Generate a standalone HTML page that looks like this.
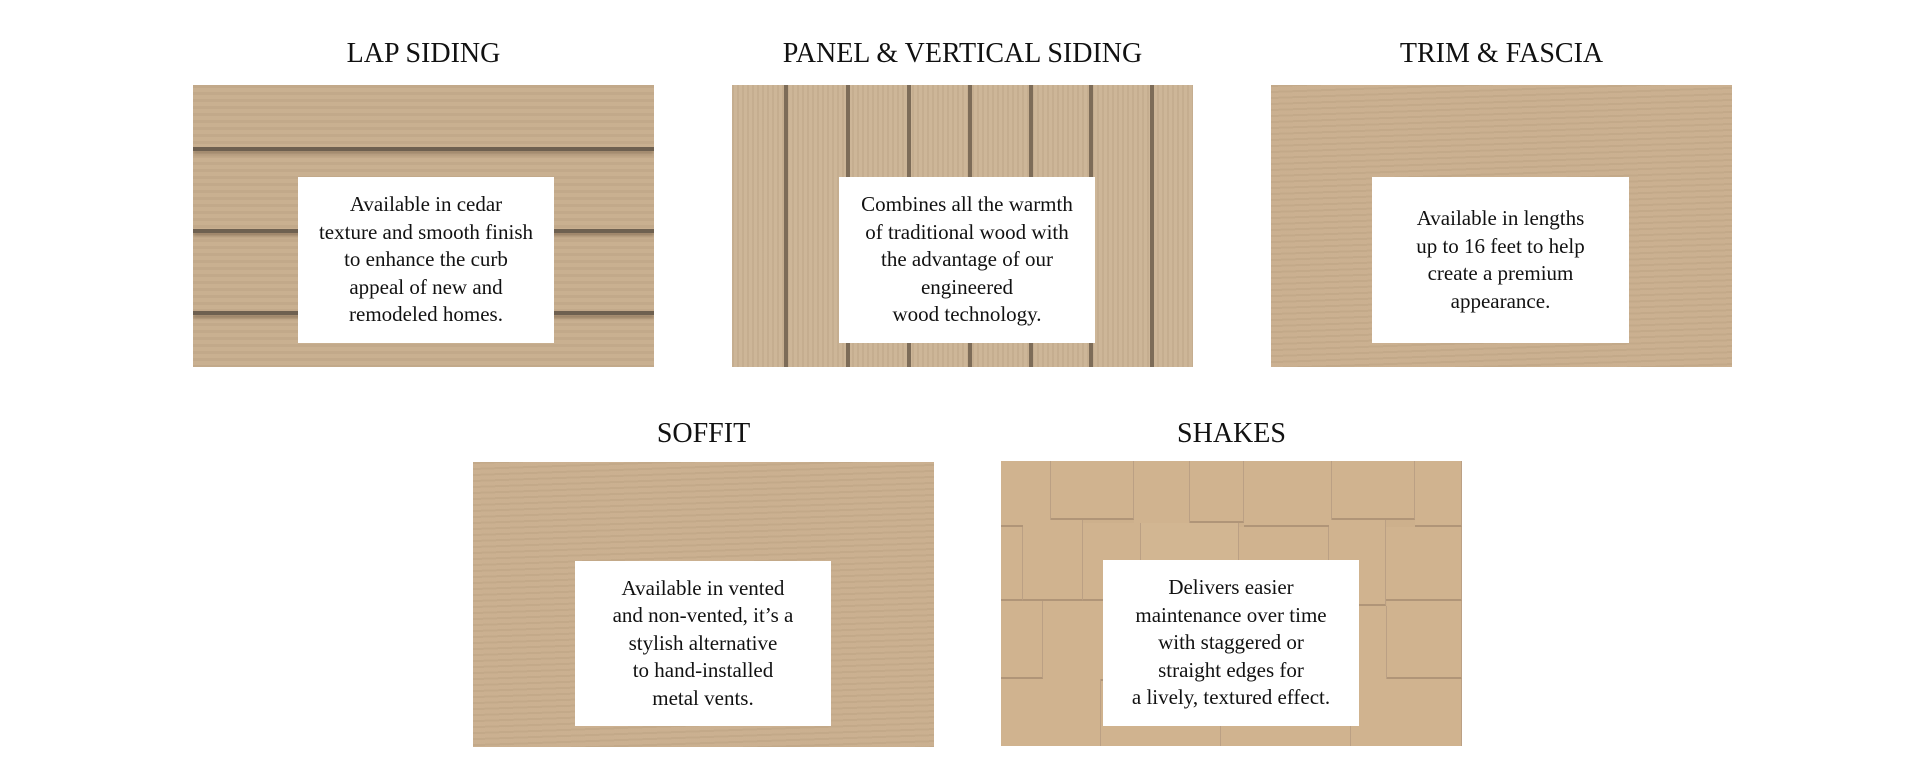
<!DOCTYPE html>
<html><head><meta charset="utf-8"><style>
html,body{margin:0;padding:0;background:#fff;width:1920px;height:766px;overflow:hidden;position:relative;font-family:"Liberation Serif",serif;}
.t{position:absolute;font-size:28px;color:#111;text-align:center;line-height:32px;}
.p{position:absolute;width:461px;height:282px;background:#c8ae8f;overflow:hidden;}
.b{position:absolute;background:#fff;color:#111;font-size:21px;line-height:27.5px;text-align:center;display:flex;align-items:center;justify-content:center;}
.lap{background:repeating-linear-gradient(180deg,rgba(0,0,0,.025) 0 3px,rgba(255,255,255,.03) 3px 7px),#c7ad8d;}
.ln{position:absolute;left:0;width:100%;height:4px;background:#6e6050;box-shadow:0 3px 3px rgba(80,60,40,.4);}
.vg{position:absolute;top:0;height:100%;width:4px;background:#7d6c58;}
.pan{background:repeating-linear-gradient(90deg,rgba(0,0,0,.03) 0 2px,rgba(255,255,255,.04) 2px 5px),#cbb394;}
.trim,.sof{background:repeating-linear-gradient(178deg,rgba(0,0,0,.03) 0 2px,rgba(255,255,255,.03) 2px 6px),#c9ae8d;}
.sh{background:#cdb08c;}
.s{position:absolute;border-right:1px solid #bba084;border-bottom:2px solid #b09578;background:#d0b38f;box-sizing:border-box;}
</style></head><body>
<div class="t" style="left:193px;width:461px;top:38px">LAP SIDING</div>
<div class="t" style="left:732px;width:461px;top:38px">PANEL &amp; VERTICAL SIDING</div>
<div class="t" style="left:1271px;width:461px;top:38px">TRIM &amp; FASCIA</div>
<div class="t" style="left:473px;width:461px;top:418px">SOFFIT</div>
<div class="t" style="left:1001px;width:461px;top:418px">SHAKES</div>

<div class="p lap" style="left:193px;top:85px">
 <div class="ln" style="top:62px"></div><div class="ln" style="top:144px"></div><div class="ln" style="top:226px"></div>
</div>
<div class="b" style="left:298px;top:177px;width:256px;height:166px">Available in cedar<br>texture and smooth finish<br>to enhance the curb<br>appeal of new and<br>remodeled homes.</div>

<div class="p pan" style="left:732px;top:85px">
 <div class="vg" style="left:52px"></div><div class="vg" style="left:114px"></div><div class="vg" style="left:175px"></div><div class="vg" style="left:236px"></div><div class="vg" style="left:297px"></div><div class="vg" style="left:357px"></div><div class="vg" style="left:418px"></div>
</div>
<div class="b" style="left:839px;top:177px;width:256px;height:166px">Combines all the warmth<br>of traditional wood with<br>the advantage of our<br>engineered<br>wood technology.</div>

<div class="p trim" style="left:1271px;top:85px"></div>
<div class="b" style="left:1372px;top:177px;width:257px;height:166px">Available in lengths<br>up to 16 feet to help<br>create a premium<br>appearance.</div>

<div class="p sof" style="left:473px;top:462px;height:285px"></div>
<div class="b" style="left:575px;top:561px;width:256px;height:165px">Available in vented<br>and non-vented, it’s a<br>stylish alternative<br>to hand-installed<br>metal vents.</div>

<div class="p sh" style="left:1001px;top:461px;height:285px">
 <div class="s" style="left:0;top:0;width:50px;height:66px"></div>
 <div class="s" style="left:50px;top:0;width:83px;height:59px"></div>
 <div class="s" style="left:133px;top:0;width:56px;height:66px"></div>
 <div class="s" style="left:189px;top:0;width:54px;height:62px"></div>
 <div class="s" style="left:243px;top:0;width:88px;height:66px"></div>
 <div class="s" style="left:331px;top:0;width:83px;height:59px"></div>
 <div class="s" style="left:414px;top:0;width:47px;height:66px"></div>
 <div class="s" style="left:0;top:66px;width:22px;height:74px"></div>
 <div class="s" style="left:22px;top:59px;width:60px;height:81px"></div>
 <div class="s" style="left:82px;top:62px;width:58px;height:78px"></div>
 <div class="s" style="left:140px;top:62px;width:98px;height:78px;background:#d2b692"></div>
 <div class="s" style="left:238px;top:66px;width:90px;height:74px"></div>
 <div class="s" style="left:328px;top:59px;width:57px;height:86px"></div>
 <div class="s" style="left:385px;top:66px;width:76px;height:74px"></div>
 <div class="s" style="left:0;top:140px;width:42px;height:78px"></div>
 <div class="s" style="left:42px;top:140px;width:75px;height:80px"></div>
 <div class="s" style="left:117px;top:140px;width:140px;height:78px"></div>
 <div class="s" style="left:257px;top:140px;width:80px;height:80px"></div>
 <div class="s" style="left:337px;top:145px;width:49px;height:75px"></div>
 <div class="s" style="left:386px;top:140px;width:75px;height:78px"></div>
 <div class="s" style="left:0;top:218px;width:100px;height:70px;border-bottom:0"></div>
 <div class="s" style="left:100px;top:220px;width:120px;height:70px;border-bottom:0"></div>
 <div class="s" style="left:220px;top:220px;width:130px;height:70px;border-bottom:0"></div>
 <div class="s" style="left:350px;top:218px;width:111px;height:70px;border-bottom:0"></div>
</div>
<div class="b" style="left:1103px;top:560px;width:256px;height:166px">Delivers easier<br>maintenance over time<br>with staggered or<br>straight edges for<br>a lively, textured effect.</div>
</body></html>
